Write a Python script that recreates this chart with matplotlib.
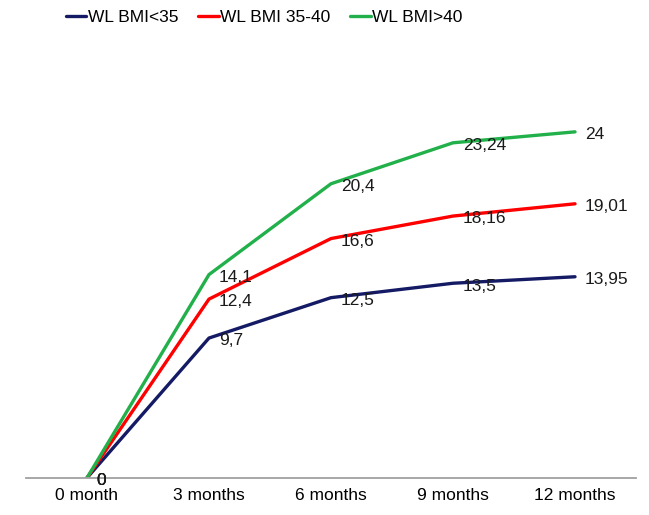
import matplotlib
matplotlib.use('Agg')
import matplotlib.pyplot as plt

plt.rcParams['font.family'] = ['Liberation Sans', 'DejaVu Sans']

months = ['0 month', '3 months', '6 months', '9 months', '12 months']
wl_lt35 = [0, 9.7, 12.5, 13.5, 13.95]
wl_35_40 = [0, 12.4, 16.6, 18.16, 19.01]
wl_gt40 = [0, 14.1, 20.4, 23.24, 24]
labels_lt35 = ['0', '9,7', '12,5', '13,5', '13,95']
labels_35_40 = ['0', '12,4', '16,6', '18,16', '19,01']
labels_gt40 = ['0', '14,1', '20,4', '23,24', '24']

series = [
    ('WL BMI<35', wl_lt35, labels_lt35, '#141a64'),
    ('WL BMI 35-40', wl_35_40, labels_35_40, '#ff0000'),
    ('WL BMI>40', wl_gt40, labels_gt40, '#22b04a'),
]

fig = plt.figure(figsize=(6.49, 5.15), dpi=100)
ax = fig.add_axes([0.04, 0.072, 0.94, 0.84])

x = list(range(len(months)))
for name, vals, labs, col in series:
    ax.plot(x, vals, color=col, lw=2.4, label=name, solid_capstyle='round')
    for xi, v, t in zip(x, vals, labs):
        ax.annotate(t, (xi, v), xytext=(7, -2), textcoords='offset points',
                    ha='left', va='center', fontsize=12.5, color='#1a1a1a')

ax.set_xlim(-0.5, 4.5)
ax.set_ylim(0, 30)
ax.set_xticks(x)
ax.set_xticklabels(months, fontsize=12.5)
ax.tick_params(axis='x', length=0, pad=7)
ax.set_yticks([])
for s in ['top', 'right', 'left']:
    ax.spines[s].set_visible(False)
ax.spines['bottom'].set_color('#a0a0a0')
ax.spines['bottom'].set_linewidth(1.3)

fig.legend(loc='upper center', bbox_to_anchor=(0.407, 1.012), ncol=3,
           frameon=False, fontsize=12.5, handlelength=1.2, handletextpad=0.1,
           columnspacing=1.1)

fig.savefig('out.png', dpi=100)
